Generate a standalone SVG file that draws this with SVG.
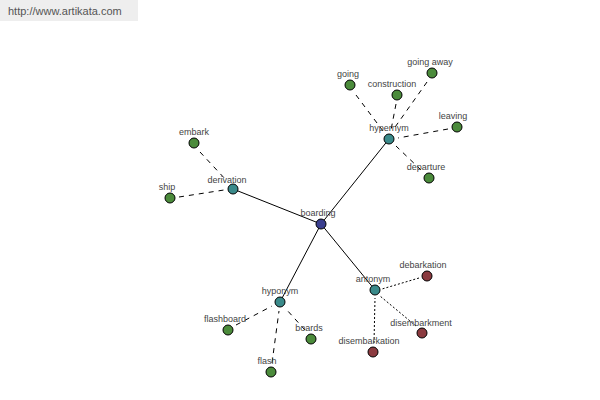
<svg xmlns="http://www.w3.org/2000/svg" width="600" height="400" viewBox="0 0 600 400">
<style>
text{font-family:"Liberation Sans",Arial,sans-serif;font-size:9px;fill:#444;text-anchor:middle}
.solid{stroke:#000;stroke-width:1;fill:none}
.dash{stroke:#000;stroke-width:1;stroke-dasharray:5,5;fill:none}
.dot{stroke:#000;stroke-width:1;stroke-dasharray:2,2;fill:none}
circle{stroke:#000;stroke-width:1}
.g{fill:#4b8b3b}.t{fill:#3a8a8a}.b{fill:#3a3f8f}.r{fill:#8b3a3f}
</style>
<rect x="0" y="0" width="138" height="21" fill="#eeeeee"/>
<text x="8" y="15" style="text-anchor:start;font-size:11px;fill:#555">http://www.artikata.com</text>
<g id="connectors">
<line class="solid" x1="321" y1="224" x2="389" y2="139"/>
<line class="solid" x1="321" y1="224" x2="233" y2="189"/>
<line class="solid" x1="321" y1="224" x2="280" y2="302"/>
<line class="solid" x1="321" y1="224" x2="375" y2="290"/>
<line class="dash" x1="356" y1="95" x2="383" y2="131"/>
<line class="dash" x1="396" y1="104" x2="391" y2="130"/>
<line class="dash" x1="427" y1="82" x2="393" y2="130"/>
<line class="dash" x1="448" y1="129" x2="398" y2="138"/>
<line class="dash" x1="421" y1="170" x2="396" y2="146"/>
<line class="dash" x1="200" y1="152" x2="227" y2="181"/>
<line class="dash" x1="179" y1="197" x2="224" y2="190"/>
<line class="dash" x1="236" y1="325" x2="272" y2="306"/>
<line class="dash" x1="272" y1="363" x2="279" y2="311"/>
<line class="dash" x1="305" y1="330" x2="286" y2="309"/>
<line class="dot" x1="419" y1="278" x2="382" y2="289"/>
<line class="dot" x1="416" y1="326" x2="380" y2="296"/>
<line class="dot" x1="374" y1="343" x2="375" y2="298"/>
</g>
<g id="n-boarding"><circle class="b" cx="321" cy="224" r="5"/><text x="318" y="216">boarding</text></g>
<g id="n-hypernym"><circle class="t" cx="389" cy="139" r="5"/><text x="389" y="131">hypernym</text></g>
<g id="n-derivation"><circle class="t" cx="233" cy="189" r="5"/><text x="227" y="183">derivation</text></g>
<g id="n-hyponym"><circle class="t" cx="280" cy="302" r="5"/><text x="280" y="294">hyponym</text></g>
<g id="n-antonym"><circle class="t" cx="375" cy="290" r="5"/><text x="373" y="282">antonym</text></g>
<g id="n-going"><circle class="g" cx="350" cy="85" r="5"/><text x="348" y="77">going</text></g>
<g id="n-construction"><circle class="g" cx="397" cy="95" r="5"/><text x="392" y="87">construction</text></g>
<g id="n-goingaway"><circle class="g" cx="432" cy="73" r="5"/><text x="430" y="65">going away</text></g>
<g id="n-leaving"><circle class="g" cx="457" cy="127" r="5"/><text x="453" y="119">leaving</text></g>
<g id="n-departure"><circle class="g" cx="429" cy="178" r="5"/><text x="426" y="170">departure</text></g>
<g id="n-embark"><circle class="g" cx="194" cy="143" r="5"/><text x="194" y="135">embark</text></g>
<g id="n-ship"><circle class="g" cx="170" cy="198" r="5"/><text x="167" y="190">ship</text></g>
<g id="n-flashboard"><circle class="g" cx="228" cy="330" r="5"/><text x="225" y="322">flashboard</text></g>
<g id="n-flash"><circle class="g" cx="271" cy="372" r="5"/><text x="267" y="364">flash</text></g>
<g id="n-boards"><circle class="g" cx="311" cy="339" r="5"/><text x="309" y="331">boards</text></g>
<g id="n-debarkation"><circle class="r" cx="427" cy="276" r="5"/><text x="423" y="268">debarkation</text></g>
<g id="n-disembarkment"><circle class="r" cx="422" cy="333" r="5"/><text x="421" y="326">disembarkment</text></g>
<g id="n-disembarkation"><circle class="r" cx="373" cy="352" r="5"/><text x="369" y="344">disembarkation</text></g>
</svg>
